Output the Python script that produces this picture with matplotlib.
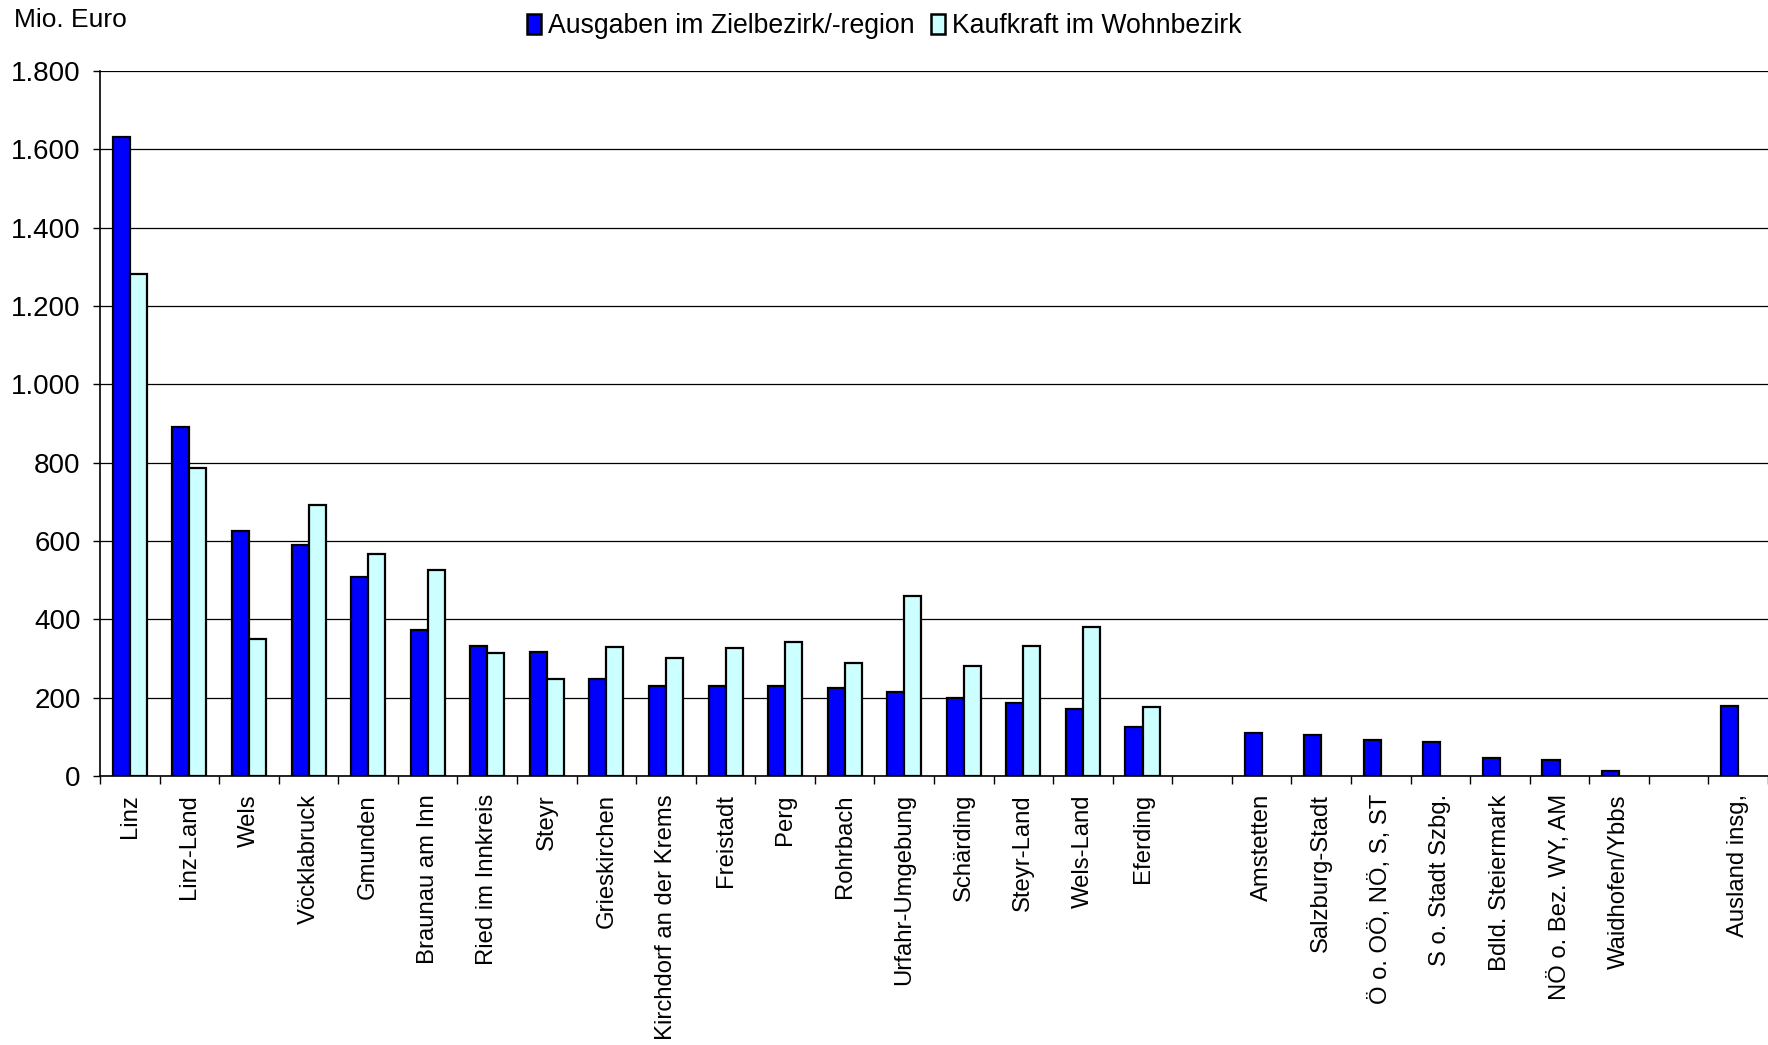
import numpy as np
import matplotlib.pyplot as plt
from matplotlib.ticker import FuncFormatter, FixedLocator

plt.rcParams['font.family'] = ['Liberation Sans', 'DejaVu Sans']

# categories ('' = empty slot between the groups)
categories = ['Linz', 'Linz-Land', 'Wels', 'Vöcklabruck', 'Gmunden', 'Braunau am Inn',
              'Ried im Innkreis', 'Steyr', 'Grieskirchen', 'Kirchdorf an der Krems',
              'Freistadt', 'Perg', 'Rohrbach', 'Urfahr-Umgebung', 'Schärding',
              'Steyr-Land', 'Wels-Land', 'Eferding', '',
              'Amstetten', 'Salzburg-Stadt', 'Ö o. OÖ, NÖ, S, ST', 'S o. Stadt Szbg.',
              'Bdld. Steiermark', 'NÖ o. Bez. WY, AM', 'Waidhofen/Ybbs', '',
              'Ausland insg,']

nan = np.nan
ausgaben = [1632, 890, 626, 591, 507, 374, 333, 316, 248, 231,
            231, 231, 224, 214, 200, 187, 170, 126, nan,
            109, 106, 92, 88, 45, 40, 13, nan,
            178]
kaufkraft = [1282, 786, 351, 691, 568, 527, 313, 248, 330, 302,
             326, 343, 289, 459, 282, 333, 380, 177, nan,
             nan, nan, nan, nan, nan, nan, nan, nan,
             nan]

yticks = list(range(0, 1801, 200))

fig = plt.figure(figsize=(17.68, 10.45), dpi=100)
ax = fig.add_axes([0.0566, 0.2574, 0.9434, 0.6746])

x = np.arange(len(categories))
w = 0.286
ax.bar(x - w / 2, ausgaben, w, color='#0000FF', edgecolor='black', linewidth=1.6,
       label='Ausgaben im Zielbezirk/-region', zorder=3)
ax.bar(x + w / 2, kaufkraft, w, color='#CCFFFF', edgecolor='black', linewidth=1.6,
       label='Kaufkraft im Wohnbezirk', zorder=3)

ax.set_xlim(-0.5, len(categories) - 0.5)
ax.set_ylim(0, 1800)
ax.set_yticks(yticks)
ax.yaxis.set_major_formatter(FuncFormatter(lambda v, p: '{:,.0f}'.format(v).replace(',', '.')))
ax.grid(axis='y', color='black', linewidth=0.9, zorder=0)

ax.set_xticks(x)
ax.set_xticklabels(categories, rotation=90, fontsize=17.2)
ax.xaxis.set_minor_locator(FixedLocator(np.arange(len(categories) + 1) - 0.5))
ax.tick_params(axis='x', which='major', length=0, pad=13)
ax.tick_params(axis='x', which='minor', length=6, width=1, color='black')
ax.tick_params(axis='y', labelsize=20, length=5, width=1, pad=9)

for s in ['top', 'right']:
    ax.spines[s].set_visible(False)
for s in ['left', 'bottom']:
    ax.spines[s].set_color('black')
    ax.spines[s].set_linewidth(1.2)
    ax.spines[s].set_zorder(4)

fig.text(0.008, 0.981, 'Mio. Euro', fontsize=19, va='center', ha='left')

leg = fig.legend(loc='center', bbox_to_anchor=(0.5, 0.975), ncol=2, frameon=False,
                 fontsize=19.2, handlelength=0.55, handleheight=0.8, handletextpad=0.25,
                 columnspacing=0.6, borderaxespad=0)
for h in leg.legend_handles:
    h.set_linewidth(1.8)

fig.savefig('out.png', dpi=100)
